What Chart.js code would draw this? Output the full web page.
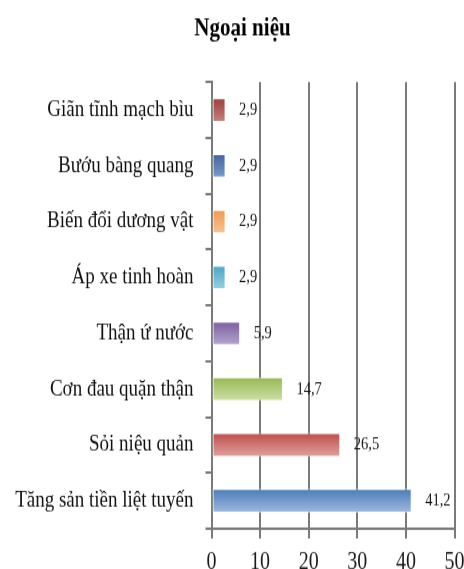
<!DOCTYPE html>
<html>
<head>
<meta charset="utf-8">
<script src="https://cdn.jsdelivr.net/npm/chart.js@4/dist/chart.umd.min.js"></script>
<style>
  html, body { margin: 0; padding: 0; background: #fff; overflow: hidden; }
</style>
</head>
<body>
<!-- drawn at 464x466 and shown slightly taller, like the original figure -->
<canvas id="chart" width="464" height="466" style="display:block;width:464px;height:569px"></canvas>
<script>
// Data
const chartTitle = 'Ngoại niệu';
const categories = [
  'Giãn tĩnh mạch bìu',
  'Bướu bàng quang',
  'Biến đổi dương vật',
  'Áp xe tinh hoàn',
  'Thận ứ nước',
  'Cơn đau quặn thận',
  'Sỏi niệu quản',
  'Tăng sản tiền liệt tuyến'
];
const values = [2.9, 2.9, 2.9, 2.9, 5.9, 14.7, 26.5, 41.2];
const xTicks = [0, 10, 20, 30, 40, 50];

// Per-bar gradient colours (top edge -> bottom edge)
const topColors = ['#9b3d3a', '#3f65a1', '#f2994e', '#46a6c3', '#7b5d9f', '#97b853', '#bf4d4a', '#4a7bb9'];
const bottomColors = ['#c7827f', '#7d9bcc', '#f8c594', '#98d3e4', '#b5a6cf', '#cfe0a6', '#dfa3a1', '#a0bbdf'];

const SERIF = "'Liberation Serif', 'Times New Roman', serif";
const GRID = '#7a7a7a';
const CAT_PCT = 0.43;

function barFill(context) {
  const i = context.dataIndex;
  const chart = context.chart;
  const yScale = chart.scales && chart.scales.y;
  if (i === undefined || !yScale || !yScale.height) return topColors[i] || topColors[0];
  const center = yScale.getPixelForValue(i);
  const half = (yScale.height / categories.length) * CAT_PCT / 2;
  const g = chart.ctx.createLinearGradient(0, center - half, 0, center + half);
  g.addColorStop(0, topColors[i]);
  g.addColorStop(1, bottomColors[i]);
  return g;
}

// Title, centred a little right of the canvas middle
const titleText = {
  id: 'titleText',
  afterDraw(chart) {
    const ctx = chart.ctx;
    ctx.save();
    ctx.font = 'bold 21px ' + SERIF;
    ctx.fillStyle = '#000';
    ctx.textAlign = 'center';
    ctx.textBaseline = 'alphabetic';
    ctx.fillText(chartTitle, 242.5, 29.2);
    ctx.restore();
  }
};

// Value labels to the right of each bar, decimal comma
const valueLabels = {
  id: 'valueLabels',
  afterDatasetsDraw(chart) {
    const ctx = chart.ctx;
    const meta = chart.getDatasetMeta(0);
    ctx.save();
    ctx.font = '14.5px ' + SERIF;
    ctx.fillStyle = '#151515';
    ctx.textAlign = 'left';
    ctx.textBaseline = 'middle';
    meta.data.forEach((bar, i) => {
      const text = String(values[i]).replace('.', ',');
      ctx.fillText(text, bar.x + 13.5, bar.y);
    });
    ctx.restore();
  }
};

new Chart(document.getElementById('chart'), {
  type: 'bar',
  data: {
    labels: categories,
    datasets: [{
      data: values,
      backgroundColor: barFill,
      borderColor: 'rgba(255,255,255,0.55)',
      borderWidth: 1,
      borderSkipped: false,
      categoryPercentage: CAT_PCT,
      barPercentage: 1
    }]
  },
  options: {
    indexAxis: 'y',
    responsive: false,
    animation: false,
    events: [],
    layout: { padding: { left: 0, right: 0, top: 67.2, bottom: 0 } },
    plugins: {
      legend: { display: false },
      tooltip: { enabled: false },
      title: { display: false }
    },
    scales: {
      x: {
        min: 0,
        max: 50,
        afterBuildTicks: (scale) => { scale.ticks = xTicks.map(v => ({ value: v })); },
        afterFit: (scale) => {
          scale.height = 33;
          scale.paddingRight = 9.5;
          scale.paddingLeft = 0;
        },
        grid: { color: GRID, lineWidth: 2, drawTicks: true, tickLength: 8 },
        border: { color: GRID, width: 2 },
        ticks: {
          color: '#1a1a1a',
          padding: 8,
          font: { family: SERIF, size: 20 },
          maxRotation: 0
        }
      },
      y: {
        afterFit: (scale) => { scale.width = 211.5; },
        grid: { color: GRID, lineWidth: 2, drawOnChartArea: false, drawTicks: true, tickLength: 6, offset: true },
        border: { color: GRID, width: 2 },
        ticks: {
          color: '#111',
          padding: 12,
          font: { family: SERIF, size: 19 }
        }
      }
    }
  },
  plugins: [valueLabels, titleText]
});
</script>
</body>
</html>
